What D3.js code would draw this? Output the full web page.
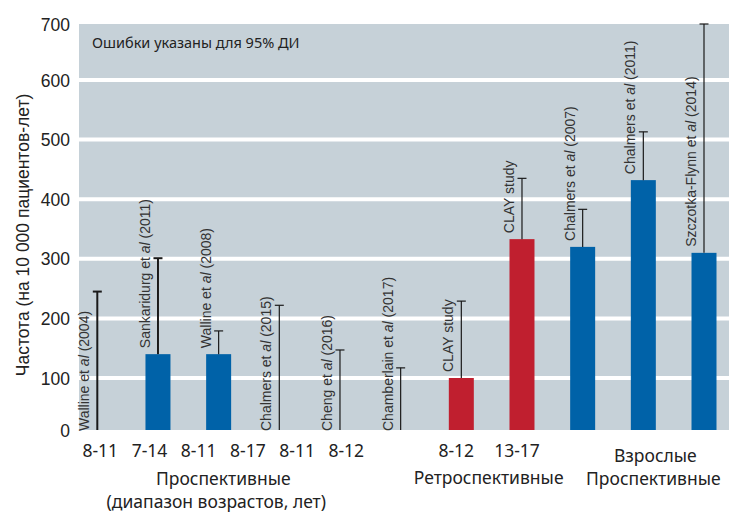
<!DOCTYPE html>
<html>
<head>
<meta charset="utf-8">
<script src="https://cdn.jsdelivr.net/npm/d3@7"></script>
<style>
  html, body { margin: 0; padding: 0; background: #fff; }
  svg { display: block; }
</style>
</head>
<body>
<svg id="chart" width="729" height="512"></svg>
<script>
// ---------- DATA ----------
const studies = [
  "Walline et al (2004)", "Sankaridurg et al (2011)", "Walline et al (2008)",
  "Chalmers et al (2015)", "Cheng et al (2016)", "Chamberlain et al (2017)",
  "CLAY study", "CLAY study",
  "Chalmers et al (2007)", "Chalmers et al (2011)", "Szczotka-Flynn et al (2014)"
];
const groups = ["prosp","prosp","prosp","prosp","prosp","prosp","retro","retro","adult","adult","adult"];
const ageRanges = ["8-11","7-14","8-11","8-17","8-11","8-12","8-12","13-17","","",""];
const rates = [0, 140, 140, 0, 0, 0, 100, 333, 320, 432, 310];
const upperCI = [245, 301, 179, 222, 147, 117, 229, 435, 383, 513, 700];
const yTicks = [0, 100, 200, 300, 400, 500, 600, 700];
const groupLabels = {
  prosp: ["Проспективные", "(диапазон возрастов, лет)"],
  retro: ["Ретроспективные"],
  adult: ["Взрослые", "Проспективные"]
};
const note = "Ошибки указаны для 95% ДИ";
const yTitle = "Частота (на 10 000 пациентов-лет)";
const colors = { prosp: "#0062a8", retro: "#c01f2f", adult: "#0062a8" };

// ---------- LAYOUT ----------
const W = 729, H = 512;
const plot = { left: 79, right: 729, top: 24, bottom: 430 };
const svg = d3.select("#chart");

const y = d3.scaleLinear()
  .domain([0, 100, 600, 700])
  .range([plot.bottom, 378, 80, plot.top]);

const idx = d3.range(studies.length);
const step = 60.67;
const x = d3.scaleBand()
  .domain(idx)
  .range([97.3 - step / 2, 97.3 - step / 2 + step * studies.length])
  .paddingInner(0.588)
  .paddingOuter(0.294);
const cx = i => x(i) + x.bandwidth() / 2;

// background
svg.append("rect")
  .attr("x", plot.left).attr("y", plot.top)
  .attr("width", plot.right - plot.left).attr("height", plot.bottom - plot.top)
  .attr("fill", "#c6d1d8");

// grid lines
svg.append("g").selectAll("line")
  .data(yTicks.filter(t => t > 0 && t < 700))
  .join("line")
  .attr("x1", plot.left).attr("x2", plot.right)
  .attr("y1", d => y(d)).attr("y2", d => y(d))
  .attr("stroke", "#fff").attr("stroke-width", 4);

// y axis
const yAxis = svg.append("g")
  .attr("transform", `translate(${plot.left},0)`)
  .call(d3.axisLeft(y).tickValues(yTicks).tickSize(0).tickPadding(9));
yAxis.select(".domain").remove();
yAxis.selectAll("text")
  .attr("font-family", "'Liberation Sans', Arial, sans-serif")
  .attr("font-size", 17.5)
  .attr("fill", "#222")
  .attr("dy", "0.35em");

// y title
svg.append("text")
  .attr("transform", `translate(29,${(plot.top + plot.bottom) / 2 + 8}) rotate(-90)`)
  .attr("text-anchor", "middle")
  .attr("font-family", "'Liberation Sans', Arial, sans-serif")
  .attr("font-size", 17.5)
  .attr("fill", "#222")
  .text(yTitle);

// note
svg.append("text")
  .attr("x", 92).attr("y", 48)
  .attr("font-family", "'Noto Sans', sans-serif")
  .attr("font-size", 14.5)
  .attr("fill", "#222")
  .text(note);

// bars
svg.append("g").selectAll("rect")
  .data(idx.filter(i => rates[i] > 0))
  .join("rect")
  .attr("x", i => x(i))
  .attr("width", x.bandwidth())
  .attr("y", i => y(rates[i]))
  .attr("height", i => y(0) - y(rates[i]))
  .attr("fill", i => colors[groups[i]]);

// error bars
const eb = svg.append("g").selectAll("g").data(idx).join("g")
  .attr("stroke", "#1a1a1a")
  .attr("stroke-width", i => i < 2 ? 2 : 1.2);
eb.append("line")
  .attr("x1", i => cx(i)).attr("x2", i => cx(i))
  .attr("y1", i => y(rates[i])).attr("y2", i => y(upperCI[i]));
eb.append("line")
  .attr("x1", i => cx(i) - 4.5).attr("x2", i => cx(i) + 4.5)
  .attr("y1", i => y(upperCI[i])).attr("y2", i => y(upperCI[i]));

// study labels (vertical)
const lab = svg.append("g").selectAll("text").data(idx).join("text")
  .attr("transform", i => `translate(${cx(i) - 8},${rates[i] > 0 ? y(rates[i]) - 6 : y(0) + 1}) rotate(-90)`)
  .attr("font-family", "'Liberation Sans', Arial, sans-serif")
  .attr("font-size", 14)
  .attr("fill", "#333");
lab.each(function(i) {
  const t = d3.select(this);
  const parts = studies[i].split(" al ");
  if (parts.length === 2) {
    t.append("tspan").text(parts[0] + " ");
    t.append("tspan").attr("font-style", "italic").text("al");
    t.append("tspan").text(" " + parts[1]);
  } else {
    t.text(studies[i]);
  }
});

// age range labels
const prospIdx = idx.filter(i => groups[i] === "prosp");
const ageX = d3.scalePoint()
  .domain(prospIdx)
  .range([cx(prospIdx[0]) + 3, cx(prospIdx[0]) + 249]);
const ageFont = "'Noto Sans', sans-serif";
svg.append("g").selectAll("text")
  .data(idx.filter(i => ageRanges[i] !== ""))
  .join("text")
  .attr("x", i => groups[i] === "prosp" ? ageX(i) : cx(i) - 5)
  .attr("y", 457)
  .attr("text-anchor", "middle")
  .attr("font-family", ageFont)
  .attr("font-size", 17.5)
  .attr("fill", "#222")
  .text(i => ageRanges[i]);

// group labels
const retroIdx = idx.filter(i => groups[i] === "retro");
const adultIdx = idx.filter(i => groups[i] === "adult");
const gl = [
  { x: (ageX(prospIdx[0]) + ageX(prospIdx[prospIdx.length - 1])) / 2, lines: groupLabels.prosp, y0: 485, offs: [0, -7] },
  { x: d3.mean(retroIdx, cx) - 3, lines: groupLabels.retro, y0: 484, offs: [0] },
  { x: d3.mean(adultIdx, cx) + 12, lines: groupLabels.adult, y0: 462, offs: [0, -2] }
];
gl.forEach(g => {
  g.lines.forEach((ln, k) => {
    svg.append("text")
      .attr("x", g.x + g.offs[k])
      .attr("y", g.y0 + k * 22.5)
      .attr("text-anchor", "middle")
      .attr("font-family", ageFont)
      .attr("font-size", 17.5)
      .attr("fill", "#222")
      .text(ln);
  });
});
</script>
</body>
</html>
